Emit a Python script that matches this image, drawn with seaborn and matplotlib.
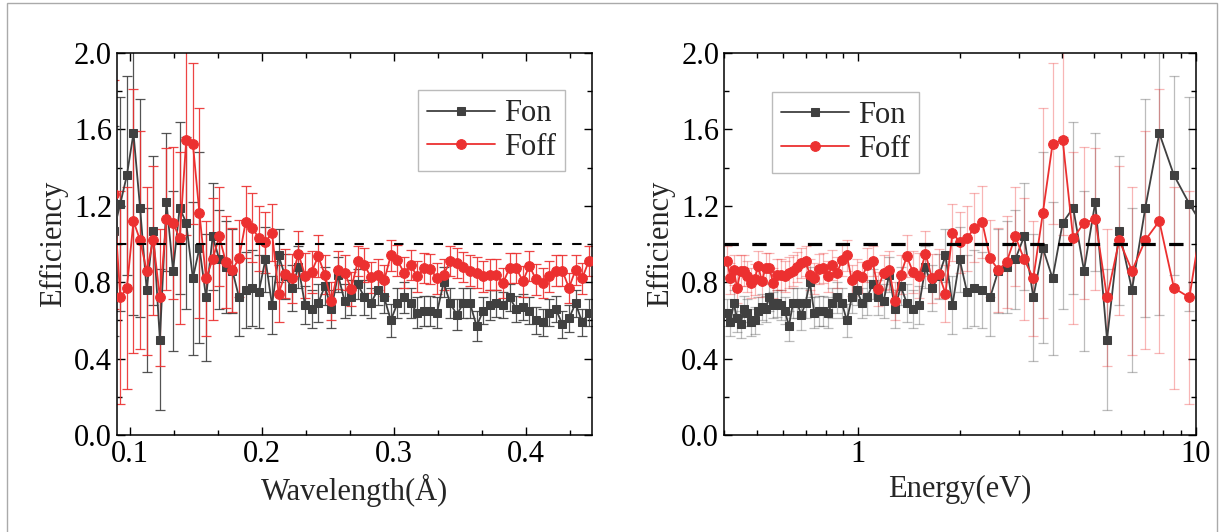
import numpy as np
import seaborn as sns
import matplotlib.pyplot as plt
from matplotlib.ticker import MultipleLocator, LogLocator, NullFormatter
from matplotlib.patches import Rectangle

# Data

wavelength = [0.0875, 0.0925, 0.0975, 0.1025, 0.1075, 0.1125, 0.1175, 0.1225, 0.1275, 0.1325,
              0.1375, 0.1425, 0.1475, 0.1525, 0.1575, 0.1625, 0.1675, 0.1725, 0.1775, 0.1825,
              0.1875, 0.1925, 0.1975, 0.2025, 0.2075, 0.2125, 0.2175, 0.2225, 0.2275, 0.2325,
              0.2375, 0.2425, 0.2475, 0.2525, 0.2575, 0.2625, 0.2675, 0.2725, 0.2775, 0.2825,
              0.2875, 0.2925, 0.2975, 0.3025, 0.3075, 0.3125, 0.3175, 0.3225, 0.3275, 0.3325,
              0.3375, 0.3425, 0.3475, 0.3525, 0.3575, 0.3625, 0.3675, 0.3725, 0.3775, 0.3825,
              0.3875, 0.3925, 0.3975, 0.4025, 0.4075, 0.4125, 0.4175, 0.4225, 0.4275, 0.4325,
              0.4375, 0.4425, 0.4475]

fon = [1.07, 1.21, 1.36, 1.58, 1.19, 0.76, 1.07, 0.50, 1.22, 0.86,
       1.19, 1.11, 0.82, 0.98, 0.72, 1.04, 0.92, 0.88, 0.86, 0.72,
       0.76, 0.77, 0.75, 0.92, 0.68, 0.94, 0.83, 0.77, 0.88, 0.68,
       0.66, 0.69, 0.78, 0.66, 0.84, 0.70, 0.72, 0.79, 0.72, 0.69,
       0.76, 0.72, 0.60, 0.69, 0.72, 0.69, 0.64, 0.65, 0.65, 0.64,
       0.80, 0.69, 0.63, 0.69, 0.69, 0.57, 0.65, 0.68, 0.69, 0.68,
       0.72, 0.66, 0.67, 0.65, 0.60, 0.59, 0.64, 0.66, 0.58, 0.61,
       0.69, 0.59, 0.64]

fon_err = [0.55, 0.56, 0.52, 0.95, 0.57, 0.43, 0.39, 0.37, 0.36, 0.42,
           0.45, 0.45, 0.40, 0.50, 0.33, 0.28, 0.26, 0.24, 0.22, 0.20,
           0.20, 0.20, 0.19, 0.17, 0.15, 0.14, 0.12, 0.12, 0.11, 0.10,
           0.10, 0.10, 0.10, 0.10, 0.09, 0.09, 0.09, 0.08, 0.09, 0.08,
           0.08, 0.08, 0.085, 0.08, 0.08, 0.08, 0.08, 0.08, 0.08, 0.08,
           0.08, 0.08, 0.08, 0.08, 0.08, 0.08, 0.07, 0.08, 0.07, 0.07,
           0.07, 0.07, 0.07, 0.07, 0.07, 0.07, 0.07, 0.07, 0.07, 0.07,
           0.07, 0.07, 0.07]

foff = [1.26, 0.72, 0.77, 1.12, 1.02, 0.86, 1.02, 0.72, 1.13, 1.11,
        1.03, 1.545, 1.525, 1.16, 0.82, 0.92, 1.04, 0.905, 0.865, 0.925,
        1.115, 1.085, 1.03, 1.01, 1.06, 0.74, 0.845, 0.82, 0.95, 0.835,
        0.855, 0.935, 0.84, 0.70, 0.865, 0.85, 0.765, 0.91, 0.89, 0.825,
        0.84, 0.81, 0.94, 0.915, 0.85, 0.89, 0.83, 0.875, 0.87, 0.82,
        0.84, 0.91, 0.90, 0.88, 0.86, 0.85, 0.83, 0.84, 0.84, 0.795,
        0.875, 0.875, 0.805, 0.885, 0.815, 0.795, 0.83, 0.86, 0.86, 0.77,
        0.865, 0.82, 0.91]

foff_err = [0.60, 0.56, 0.53, 0.69, 0.57, 0.44, 0.39, 0.36, 0.37, 0.40,
            0.45, 0.50, 0.42, 0.55, 0.30, 0.32, 0.26, 0.24, 0.22, 0.20,
            0.19, 0.18, 0.17, 0.16, 0.15, 0.15, 0.13, 0.13, 0.12, 0.12,
            0.11, 0.11, 0.10, 0.10, 0.10, 0.09, 0.09, 0.08, 0.09, 0.08,
            0.08, 0.08, 0.08, 0.08, 0.08, 0.08, 0.08, 0.08, 0.08, 0.08,
            0.08, 0.08, 0.08, 0.08, 0.08, 0.08, 0.08, 0.08, 0.08, 0.08,
            0.08, 0.08, 0.08, 0.08, 0.08, 0.08, 0.08, 0.08, 0.08, 0.08,
            0.08, 0.08, 0.08]

# right panel shows the same points against energy, E = 0.0818 / lambda^2
energy = 0.0818 / np.array(wavelength) ** 2

c_on = '#404040'
c_off = '#ec3030'

sns.set_theme(style="ticks")
plt.rcParams['font.family'] = ['Liberation Serif', 'DejaVu Serif']
plt.rcParams['font.size'] = 22
plt.rcParams['axes.edgecolor'] = 'black'
plt.rcParams['axes.linewidth'] = 1.1
plt.rcParams['xtick.color'] = 'black'
plt.rcParams['ytick.color'] = 'black'


def draw(ax, x, err_alpha, err_lw, dash_lw, dashes):
    ax.errorbar(x, fon, yerr=fon_err, fmt='none', ecolor=c_on, alpha=err_alpha,
                elinewidth=err_lw, capsize=3.5, capthick=err_lw, zorder=2)
    ax.errorbar(x, foff, yerr=foff_err, fmt='none', ecolor=c_off, alpha=err_alpha,
                elinewidth=err_lw, capsize=3.5, capthick=err_lw, zorder=2)
    sns.lineplot(x=x, y=fon, ax=ax, color=c_on, marker='s', markersize=6,
                 markeredgecolor=c_on, linewidth=1.3, sort=False, estimator=None,
                 label='Fon', zorder=3)
    sns.lineplot(x=x, y=foff, ax=ax, color=c_off, marker='o', markersize=7,
                 markeredgecolor=c_off, linewidth=1.3, sort=False, estimator=None,
                 label='Foff', zorder=3)
    ax.axhline(1.0, color='black', lw=dash_lw, dashes=dashes, zorder=4)

    ax.set_ylim(0, 2.0)
    ax.yaxis.set_major_locator(MultipleLocator(0.4))
    ax.yaxis.set_minor_locator(MultipleLocator(0.2))
    ax.yaxis.set_major_formatter('{x:.1f}')
    ax.tick_params(which='both', direction='in', top=True, right=True, labelsize=22)
    ax.tick_params(which='major', length=6, width=1)
    ax.tick_params(which='minor', length=3.5, width=1)
    ax.set_ylabel('Efficiency', fontsize=22)


fig = plt.figure(figsize=(12.21, 5.32), dpi=100)
ax1 = fig.add_axes([0.0958, 0.1823, 0.3891, 0.7181])
ax2 = fig.add_axes([0.5930, 0.1823, 0.3865, 0.7181])

draw(ax1, wavelength, 0.9, 0.9, 1.5, (4.5, 5))
ax1.set_xlim(0.09, 0.45)
ax1.xaxis.set_major_locator(MultipleLocator(0.1))
ax1.xaxis.set_minor_locator(MultipleLocator(0.1 / 3))
ax1.xaxis.set_major_formatter('{x:.1f}')
ax1.set_xlabel('Wavelength(Å)', fontsize=22)

draw(ax2, energy, 0.35, 0.9, 2.3, (4.5, 4.2))
ax2.set_xscale('log')
ax2.set_xlim(0.4, 10)
ax2.set_xticks([1, 10], ['1', '10'])
ax2.xaxis.set_minor_locator(LogLocator(base=10, subs=np.arange(2, 10)))
ax2.xaxis.set_minor_formatter(NullFormatter())
ax2.set_xlabel('Energy(eV)', fontsize=22)

for ax, anchor in [(ax1, (0.634, 0.903)), (ax2, (0.102, 0.898))]:
    h, l = ax.get_legend_handles_labels()
    ax.legend(h[:2], l[:2], loc='upper left', bbox_to_anchor=anchor, borderaxespad=0,
              fontsize=22, frameon=True, fancybox=False, edgecolor='#bbbbbb',
              framealpha=1, handlelength=2.2, labelspacing=0.15, borderpad=0.3,
              handletextpad=0.3)

fig.patches.append(Rectangle((0.0057, -0.01), 0.991, 1.0044, transform=fig.transFigure,
                             fill=False, edgecolor='#aaaaaa', lw=1))

fig.savefig('out.png', dpi=100)
